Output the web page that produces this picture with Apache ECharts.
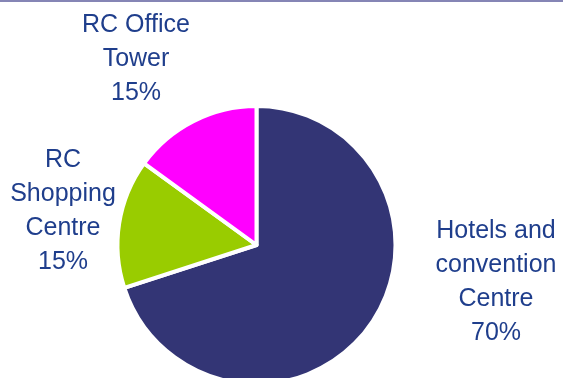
<!DOCTYPE html>
<html>
<head>
<meta charset="utf-8">
<script src="https://cdn.jsdelivr.net/npm/echarts@6/dist/echarts.min.js"></script>
<style>
  html, body { margin: 0; padding: 0; background: #ffffff; }
  #chart { width: 563px; height: 378px; }
</style>
</head>
<body>
<div id="chart"></div>
<script>
// Share of the development by component
const segments = ['Hotels and convention Centre', 'RC Shopping Centre', 'RC Office Tower'];
const shares = [70, 15, 15];
const labelText = ['Hotels and\nconvention\nCentre', 'RC\nShopping\nCentre', 'RC Office\nTower'];
const sliceColors = ['#333575', '#99cc00', '#ff00ff'];

// where each label block is centred
const labelCentres = [[496, 282], [63, 211], [136, 59]];

const chart = echarts.init(document.getElementById('chart'), null, { renderer: 'canvas' });

chart.setOption({
  animation: false,
  backgroundColor: '#ffffff',
  graphic: [{
    type: 'rect',
    shape: { x: 0, y: 0, width: 563, height: 2 },
    style: { fill: '#8585b5' },
    silent: true
  }],
  series: [{
    type: 'pie',
    center: [256.5, 245],
    radius: [0, 139],
    startAngle: 90,
    clockwise: true,
    data: segments.map((name, i) => ({
      name: name,
      value: shares[i],
      itemStyle: { color: sliceColors[i] }
    })),
    itemStyle: { borderColor: '#ffffff', borderWidth: 4 },
    label: {
      show: true,
      position: 'outside',
      formatter: (p) => labelText[p.dataIndex] + '\n' + p.value + '%',
      color: '#1f3e8c',
      fontFamily: 'Liberation Sans, Arial, sans-serif',
      fontSize: 25,
      lineHeight: 34,
      align: 'center',
      width: 140,
      overflow: 'none'
    },
    labelLine: { show: false },
    labelLayout: (params) => ({
      x: labelCentres[params.dataIndex][0],
      y: labelCentres[params.dataIndex][1],
      align: 'center',
      verticalAlign: 'middle'
    }),
    emphasis: { disabled: true }
  }]
});
</script>
</body>
</html>
